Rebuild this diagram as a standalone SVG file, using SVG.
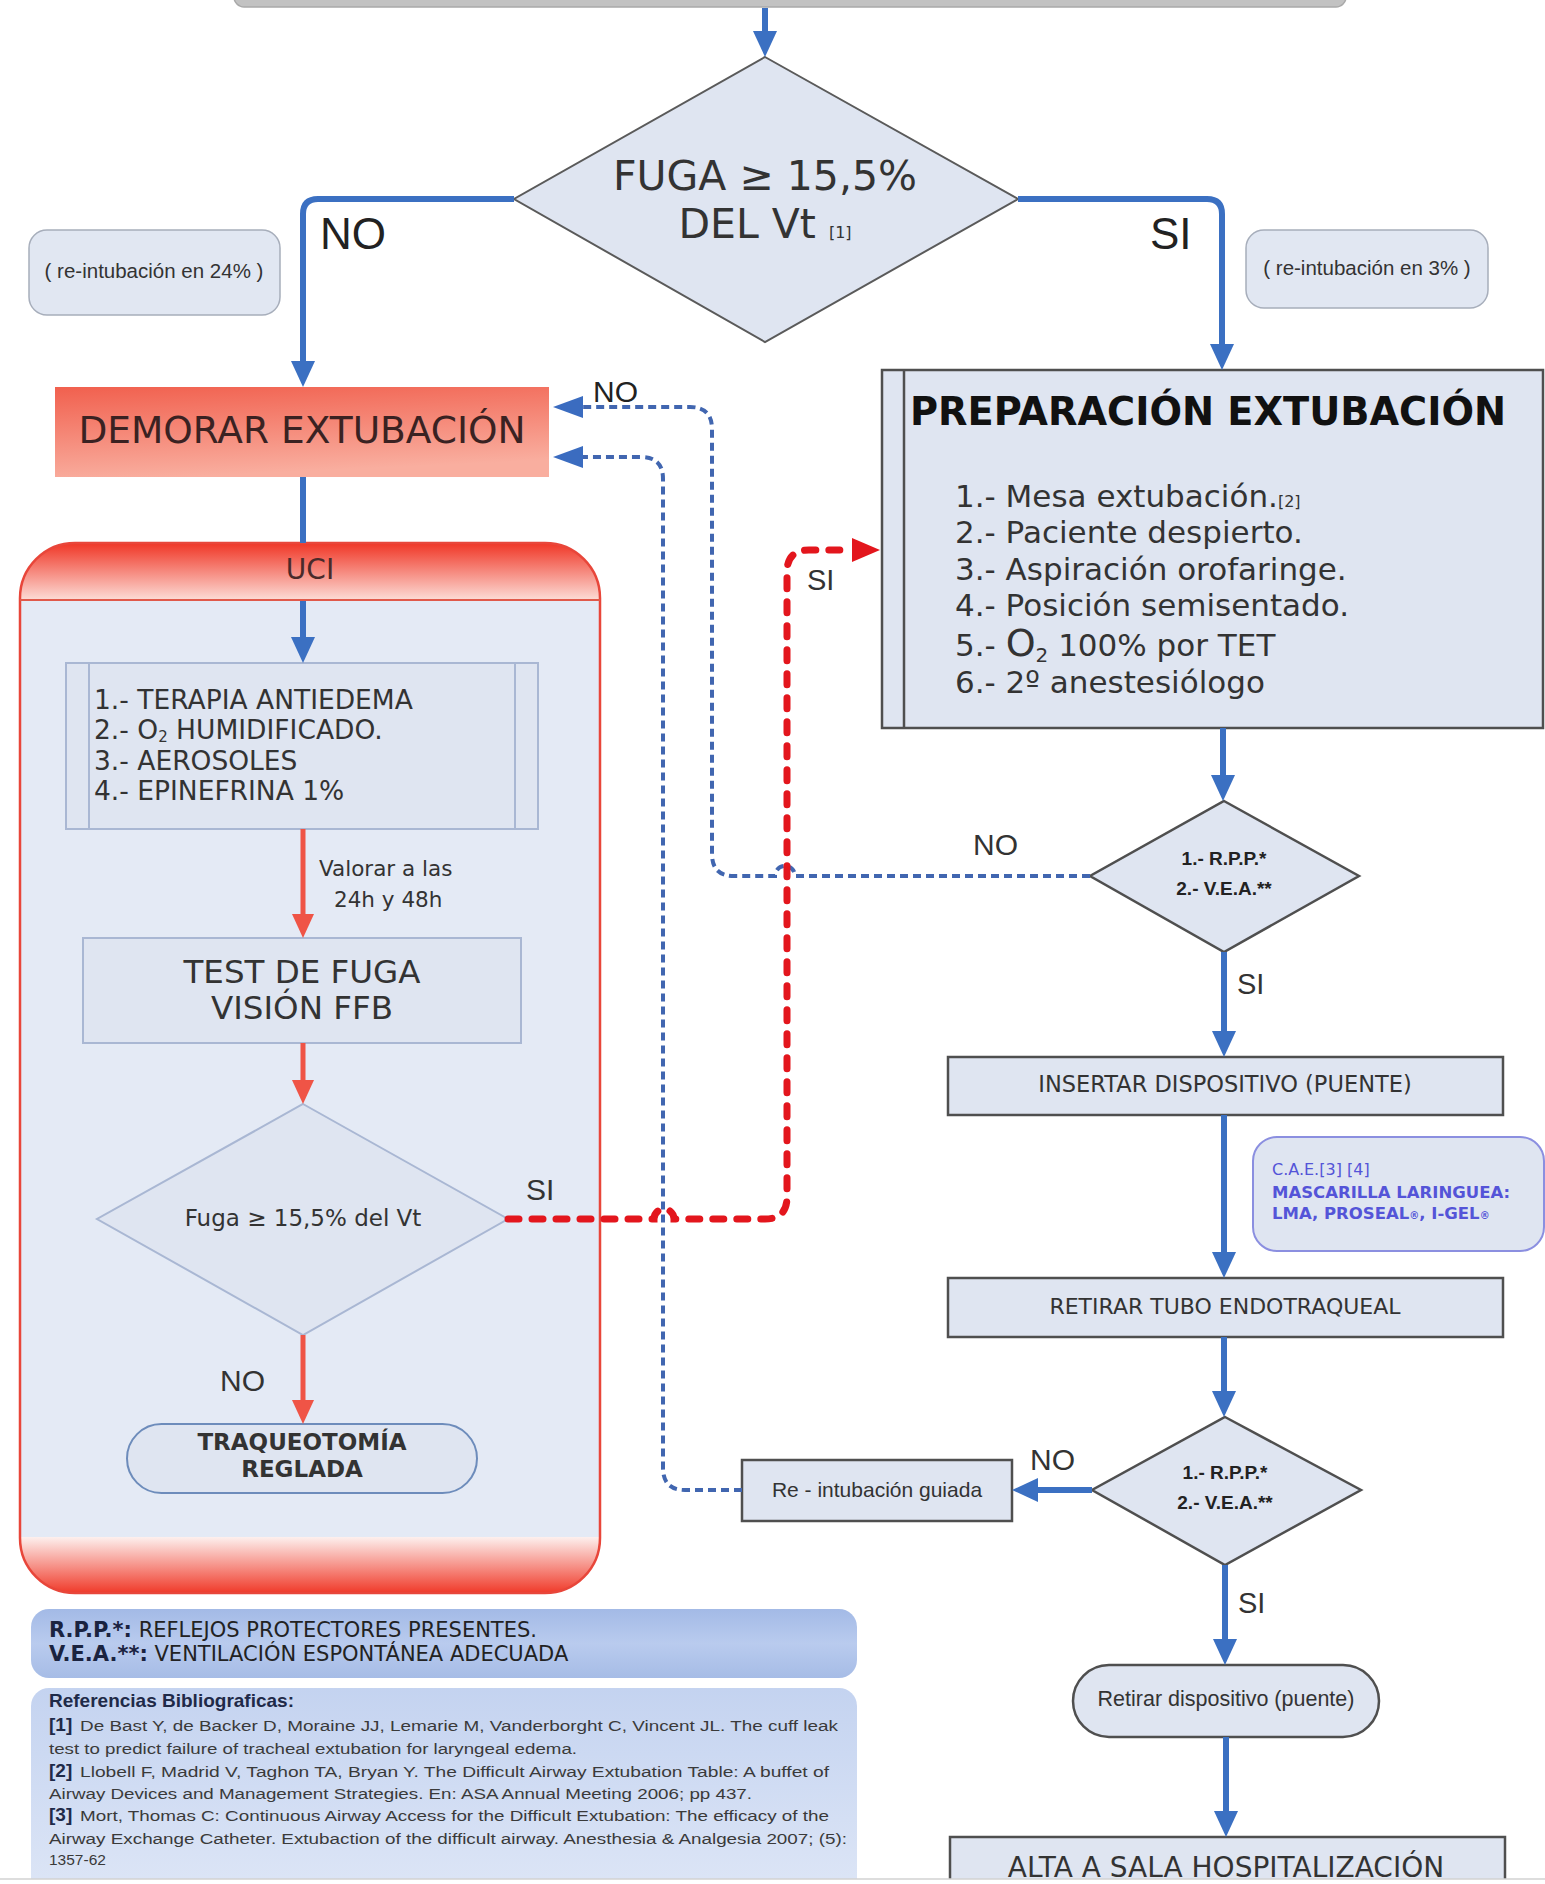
<svg xmlns="http://www.w3.org/2000/svg" width="1545" height="1884" viewBox="0 0 1545 1884">
<defs>
<style>
.v{font-family:"DejaVu Sans",Verdana,sans-serif}
.a{font-family:"Liberation Sans",Arial,sans-serif}
.t{fill:#333}
.node{fill:#dfe5f1;stroke:#4f4f4f;stroke-width:2.5}
.soft{fill:#dfe5f1;stroke:#a9b7d3;stroke-width:2}
.note{fill:#e1e7f2;stroke:#a7aebb;stroke-width:1.5}
.blue{fill:none;stroke:#3b70c2;stroke-width:6}
.red{fill:none;stroke:#ef5446;stroke-width:5}
.dblue{fill:none;stroke:#4166b0;stroke-width:4;stroke-dasharray:8 5}
.dred{fill:none;stroke:#e3161d;stroke-width:7;stroke-dasharray:11 13;stroke-linecap:round}
.ref{font-family:"Liberation Sans",Arial,sans-serif;font-size:15.5px;fill:#3a3a3a}
.refn{font-family:"Liberation Sans",Arial,sans-serif;font-size:19px;font-weight:bold;fill:#1f2a48}
</style>
<marker id="aBlue" markerUnits="userSpaceOnUse" markerWidth="30" markerHeight="30" refX="0" refY="12" orient="auto" overflow="visible"><path d="M0,0 L26,12 L0,24 Z" fill="#3b70c2"/></marker>
<marker id="aRed" markerUnits="userSpaceOnUse" markerWidth="30" markerHeight="30" refX="0" refY="11" orient="auto" overflow="visible"><path d="M0,0 L24,11 L0,22 Z" fill="#ef5446"/></marker>
<marker id="aDBlue" markerUnits="userSpaceOnUse" markerWidth="34" markerHeight="30" refX="0" refY="11" orient="auto" overflow="visible"><path d="M0,0 L30,11 L0,22 Z" fill="#3b6cc0"/></marker>
<marker id="aDRed" markerUnits="userSpaceOnUse" markerWidth="34" markerHeight="30" refX="0" refY="12" orient="auto" overflow="visible"><path d="M0,0 L28,12 L0,24 Z" fill="#e3161d"/></marker>
<linearGradient id="gDemorar" x1="0" y1="0" x2="0.25" y2="1"><stop offset="0" stop-color="#f1604e"/><stop offset="1" stop-color="#f9ae9f"/></linearGradient>
<linearGradient id="gHead" x1="0" y1="0" x2="0" y2="1"><stop offset="0" stop-color="#f03626"/><stop offset="1" stop-color="#fcdcd6"/></linearGradient>
<linearGradient id="gFoot" x1="0" y1="0" x2="0" y2="1"><stop offset="0" stop-color="#fdf0ee"/><stop offset="1" stop-color="#f03a2a"/></linearGradient>
<linearGradient id="gLegend" x1="0" y1="0" x2="0" y2="1"><stop offset="0" stop-color="#a3bae6"/><stop offset="0.5" stop-color="#b9cbee"/><stop offset="1" stop-color="#a6bce6"/></linearGradient>
<linearGradient id="gRefs" x1="0" y1="0" x2="0" y2="1"><stop offset="0" stop-color="#c4d3f0"/><stop offset="1" stop-color="#e0e8f7"/></linearGradient>
<clipPath id="uciClip"><rect x="20" y="543" width="580" height="1050" rx="55"/></clipPath>
</defs>

<rect width="1545" height="1884" fill="#ffffff"/>

<!-- previous step (bar at the top edge) -->
<g id="previous-step">
<rect x="234" y="-40" width="1112" height="47" rx="10" fill="#c2c2c2" stroke="#a9a9a9" stroke-width="1.5"/>
</g>

<!-- decision: leak test -->
<g id="fuga-decision">
<polygon points="765,57 1018,199 765,342 514,199" fill="#dfe5f1" stroke="#5a5a5a" stroke-width="2"/>
<text class="v t" x="765" y="190" font-size="41" text-anchor="middle">FUGA ≥ 15,5%</text>
<text class="v t" x="765" y="238" font-size="41" text-anchor="middle">DEL Vt  <tspan font-size="16">[1]</tspan></text>
</g>

<g id="note-no">
<rect class="note" x="29" y="230" width="251" height="85" rx="18"/>
<text class="a t" x="154" y="278" font-size="20.5" text-anchor="middle">( re-intubación en 24% )</text>
</g>
<g id="note-si">
<rect class="note" x="1246" y="230" width="242" height="78" rx="18"/>
<text class="a t" x="1367" y="275" font-size="20.5" text-anchor="middle">( re-intubación en 3% )</text>
</g>

<g id="demorar">
<rect x="55" y="387" width="494" height="90" fill="url(#gDemorar)"/>
<text class="v" x="302" y="443" font-size="37.5" text-anchor="middle" fill="#3a2222">DEMORAR EXTUBACIÓN</text>
</g>

<!-- ICU container -->
<g id="uci">
<g clip-path="url(#uciClip)">
<rect x="20" y="543" width="580" height="1050" fill="#e4eaf5"/>
<rect x="20" y="543" width="580" height="57" fill="url(#gHead)"/>
<rect x="20" y="1537" width="580" height="56" fill="url(#gFoot)"/>
</g>
<rect x="20" y="543" width="580" height="1050" rx="55" fill="none" stroke="#e8463a" stroke-width="2.5"/>
<line x1="20" y1="600" x2="600" y2="600" stroke="#e0594a" stroke-width="2"/>
<text class="v" x="310" y="579" font-size="28" text-anchor="middle" fill="#4a2a2a">UCI</text>
</g>

<g id="uci-medidas">
<rect class="soft" x="66" y="663" width="472" height="166"/>
<line x1="89" y1="663" x2="89" y2="829" stroke="#a9b7d3" stroke-width="2"/>
<line x1="515" y1="663" x2="515" y2="829" stroke="#a9b7d3" stroke-width="2"/>
<text class="v t" x="94" y="709" font-size="26.5">1.- TERAPIA ANTIEDEMA</text>
<text class="v t" x="94" y="739" font-size="26.5">2.- O<tspan font-size="15" dy="3">2</tspan><tspan dy="-3"> HUMIDIFICADO.</tspan></text>
<text class="v t" x="94" y="770" font-size="26.5">3.- AEROSOLES</text>
<text class="v t" x="94" y="800" font-size="26.5">4.- EPINEFRINA 1%</text>
</g>

<g id="test-fuga">
<rect class="soft" x="83" y="938" width="438" height="105"/>
<text class="v t" x="302" y="983" font-size="32.5" text-anchor="middle">TEST DE FUGA</text>
<text class="v t" x="302" y="1019" font-size="32.5" text-anchor="middle">VISIÓN FFB</text>
</g>

<g id="fuga-uci">
<polygon class="soft" points="303,1104 508,1219 303,1335 97,1219"/>
<text class="v t" x="303" y="1226" font-size="23" text-anchor="middle">Fuga ≥ 15,5% del Vt</text>
</g>

<g id="traqueotomia">
<rect x="127" y="1424" width="350" height="69" rx="34.5" fill="#dfe5f1" stroke="#6d8cbb" stroke-width="2"/>
<text class="v t" x="302" y="1450" font-size="23" font-weight="bold" text-anchor="middle">TRAQUEOTOMÍA</text>
<text class="v t" x="302" y="1477" font-size="23" font-weight="bold" text-anchor="middle">REGLADA</text>
</g>

<g id="preparacion">
<rect class="node" x="882" y="370" width="661" height="358" fill="#e0e6f2"/>
<line x1="904" y1="370" x2="904" y2="728" stroke="#4f4f4f" stroke-width="2.5"/>
<text class="v" x="910" y="425" font-size="38.3" font-weight="bold" fill="#111">PREPARACIÓN EXTUBACIÓN</text>
<text class="v t" x="955" y="507" font-size="31">1.- Mesa extubación.<tspan font-size="16">[2]</tspan></text>
<text class="v t" x="955" y="543" font-size="31">2.- Paciente despierto.</text>
<text class="v t" x="955" y="580" font-size="31">3.- Aspiración orofaringe.</text>
<text class="v t" x="955" y="616" font-size="31">4.- Posición semisentado.</text>
<text class="v t" x="955" y="656" font-size="31">5.- <tspan font-size="38">O</tspan><tspan font-size="20" dy="6">2</tspan><tspan dy="-6"> 100% por TET</tspan></text>
<text class="v t" x="955" y="693" font-size="31">6.- 2º anestesiólogo</text>
</g>

<g id="rpp-vea-1">
<polygon class="node" points="1224,801 1359,876 1224,952 1090,876"/>
<text class="a" x="1224" y="865" font-size="19" font-weight="bold" text-anchor="middle" fill="#222">1.- R.P.P.*</text>
<text class="a" x="1224" y="895" font-size="19" font-weight="bold" text-anchor="middle" fill="#222">2.- V.E.A.**</text>
</g>

<g id="insertar">
<rect class="node" x="948" y="1057" width="555" height="58"/>
<text class="v t" x="1225" y="1092" font-size="22.5" text-anchor="middle">INSERTAR DISPOSITIVO (PUENTE)</text>
</g>

<g id="nota-dispositivos">
<rect x="1253" y="1137" width="291" height="114" rx="24" fill="#dfe5f1" stroke="#8b8fe0" stroke-width="2"/>
<text class="v" x="1272" y="1175" font-size="16" fill="#5454d8">C.A.E.[3] [4]</text>
<text class="v" x="1272" y="1198" font-size="16.5" font-weight="bold" fill="#5454d8">MASCARILLA LARINGUEA:</text>
<text class="v" x="1272" y="1219" font-size="16.5" font-weight="bold" fill="#5454d8">LMA, PROSEAL<tspan font-size="10">®</tspan>, I-GEL<tspan font-size="10">®</tspan></text>
</g>

<g id="retirar-tubo">
<rect class="node" x="948" y="1278" width="555" height="59"/>
<text class="v t" x="1225" y="1314" font-size="22" text-anchor="middle">RETIRAR TUBO ENDOTRAQUEAL</text>
</g>

<g id="rpp-vea-2">
<polygon class="node" points="1225,1417 1361,1490 1225,1565 1092,1490"/>
<text class="a" x="1225" y="1479" font-size="19" font-weight="bold" text-anchor="middle" fill="#222">1.- R.P.P.*</text>
<text class="a" x="1225" y="1509" font-size="19" font-weight="bold" text-anchor="middle" fill="#222">2.- V.E.A.**</text>
</g>

<g id="reintubacion">
<rect class="node" x="742" y="1460" width="270" height="61"/>
<text class="a t" x="877" y="1497" font-size="21" text-anchor="middle">Re - intubación guiada</text>
</g>

<g id="retirar-dispositivo">
<rect class="node" x="1073" y="1665" width="306" height="72" rx="36"/>
<text class="a t" x="1226" y="1706" font-size="21.5" text-anchor="middle">Retirar dispositivo (puente)</text>
</g>

<g id="alta">
<rect class="node" x="950" y="1837" width="555" height="80"/>
<text class="v t" x="1226" y="1877" font-size="28" text-anchor="middle">ALTA A SALA HOSPITALIZACIÓN</text>
</g>

<g id="leyenda">
<rect x="31" y="1609" width="826" height="69" rx="18" fill="url(#gLegend)"/>
<text class="v" x="49" y="1637" font-size="21" fill="#222"><tspan font-weight="bold" fill="#1a2340">R.P.P.*:</tspan> REFLEJOS PROTECTORES PRESENTES.</text>
<text class="v" x="49" y="1661" font-size="21" fill="#222"><tspan font-weight="bold" fill="#1a2340">V.E.A.**:</tspan> VENTILACIÓN ESPONTÁNEA ADECUADA</text>
</g>

<g id="referencias">
<rect x="31" y="1688" width="826" height="230" rx="18" fill="url(#gRefs)"/>
<text class="a" x="49" y="1707" font-size="19" font-weight="bold" fill="#1f2a48">Referencias Bibliograficas:</text>
<text class="refn" x="49" y="1731">[1]</text>
<text class="ref" x="80" y="1731" textLength="758" lengthAdjust="spacingAndGlyphs">De Bast Y, de Backer D, Moraine JJ, Lemarie M, Vanderborght C, Vincent JL. The cuff leak</text>
<text class="ref" x="49" y="1754" textLength="528" lengthAdjust="spacingAndGlyphs">test to predict failure of tracheal extubation for laryngeal edema.</text>
<text class="refn" x="49" y="1777">[2]</text>
<text class="ref" x="80" y="1777" textLength="749" lengthAdjust="spacingAndGlyphs">Llobell F, Madrid V, Taghon TA, Bryan Y. The Difficult Airway Extubation Table: A buffet of</text>
<text class="ref" x="49" y="1799" textLength="703" lengthAdjust="spacingAndGlyphs">Airway Devices and Management Strategies. En: ASA Annual Meeting 2006; pp 437.</text>
<text class="refn" x="49" y="1821">[3]</text>
<text class="ref" x="80" y="1821" textLength="749" lengthAdjust="spacingAndGlyphs">Mort, Thomas C: Continuous Airway Access for the Difficult Extubation: The efficacy of the</text>
<text class="ref" x="49" y="1844" textLength="798" lengthAdjust="spacingAndGlyphs">Airway Exchange Catheter. Extubaction of the difficult airway. Anesthesia &amp; Analgesia 2007; (5):</text>
<text class="ref" x="49" y="1865">1357-62</text>
</g>

<!-- connectors -->
<g id="connectors">
<path class="blue" d="M765,8 V31" marker-end="url(#aBlue)"/>
<path class="blue" d="M514,199 H318 Q303,199 303,214 V361" marker-end="url(#aBlue)"/>
<path class="blue" d="M1018,199 H1207 Q1222,199 1222,214 V344" marker-end="url(#aBlue)"/>
<path class="blue" d="M303,477 V543"/>
<path class="blue" d="M303,601 V637" marker-end="url(#aBlue)"/>
<path class="blue" d="M1223,728 V775" marker-end="url(#aBlue)"/>
<path class="blue" d="M1224,952 V1031" marker-end="url(#aBlue)"/>
<path class="blue" d="M1224,1115 V1252" marker-end="url(#aBlue)"/>
<path class="blue" d="M1224,1337 V1391" marker-end="url(#aBlue)"/>
<path class="blue" d="M1092,1490 H1038" marker-end="url(#aBlue)"/>
<path class="blue" d="M1225,1565 V1639" marker-end="url(#aBlue)"/>
<path class="blue" d="M1226,1737 V1811" marker-end="url(#aBlue)"/>

<path class="red" d="M303,829 V914" marker-end="url(#aRed)"/>
<path class="red" d="M303,1043 V1080" marker-end="url(#aRed)"/>
<path class="red" d="M303,1335 V1400" marker-end="url(#aRed)"/>

<path class="dblue" d="M1090,876 H795 A10,10 0 0 0 775,876 H734 Q712,876 712,854 V429 Q712,407 690,407 H583" marker-end="url(#aDBlue)"/>
<path class="dblue" d="M742,1490 H685 Q663,1490 663,1468 V479 Q663,457 641,457 H583" marker-end="url(#aDBlue)"/>
<path class="dred" d="M508,1219 H654 A10,10 0 0 1 674,1219 H765 Q787,1219 787,1197 V572 Q787,550 809,550 H852" marker-end="url(#aDRed)"/>

<text class="a" x="320" y="249" font-size="44" fill="#222">NO</text>
<text class="a" x="1150" y="249" font-size="44" fill="#222">SI</text>
<text class="a" x="593" y="402" font-size="30" fill="#222">NO</text>
<text class="a" x="807" y="590" font-size="29" fill="#333">SI</text>
<text class="a" x="973" y="855" font-size="30" fill="#333">NO</text>
<text class="a" x="1237" y="994" font-size="29" fill="#333">SI</text>
<text class="a" x="1030" y="1470" font-size="30" fill="#333">NO</text>
<text class="a" x="1238" y="1613" font-size="29" fill="#333">SI</text>
<text class="v t" x="319" y="876" font-size="21.5">Valorar a las</text>
<text class="v t" x="334" y="907" font-size="21.5">24h y 48h</text>
<text class="a" x="526" y="1200" font-size="30" fill="#333">SI</text>
<text class="a" x="220" y="1391" font-size="30" fill="#333">NO</text>
</g>

<!-- lower page edge -->
<rect x="0" y="1879" width="1545" height="5" fill="#ffffff"/>
<line x1="0" y1="1879" x2="1545" y2="1879" stroke="#d2d2d2" stroke-width="1.5"/>
</svg>
